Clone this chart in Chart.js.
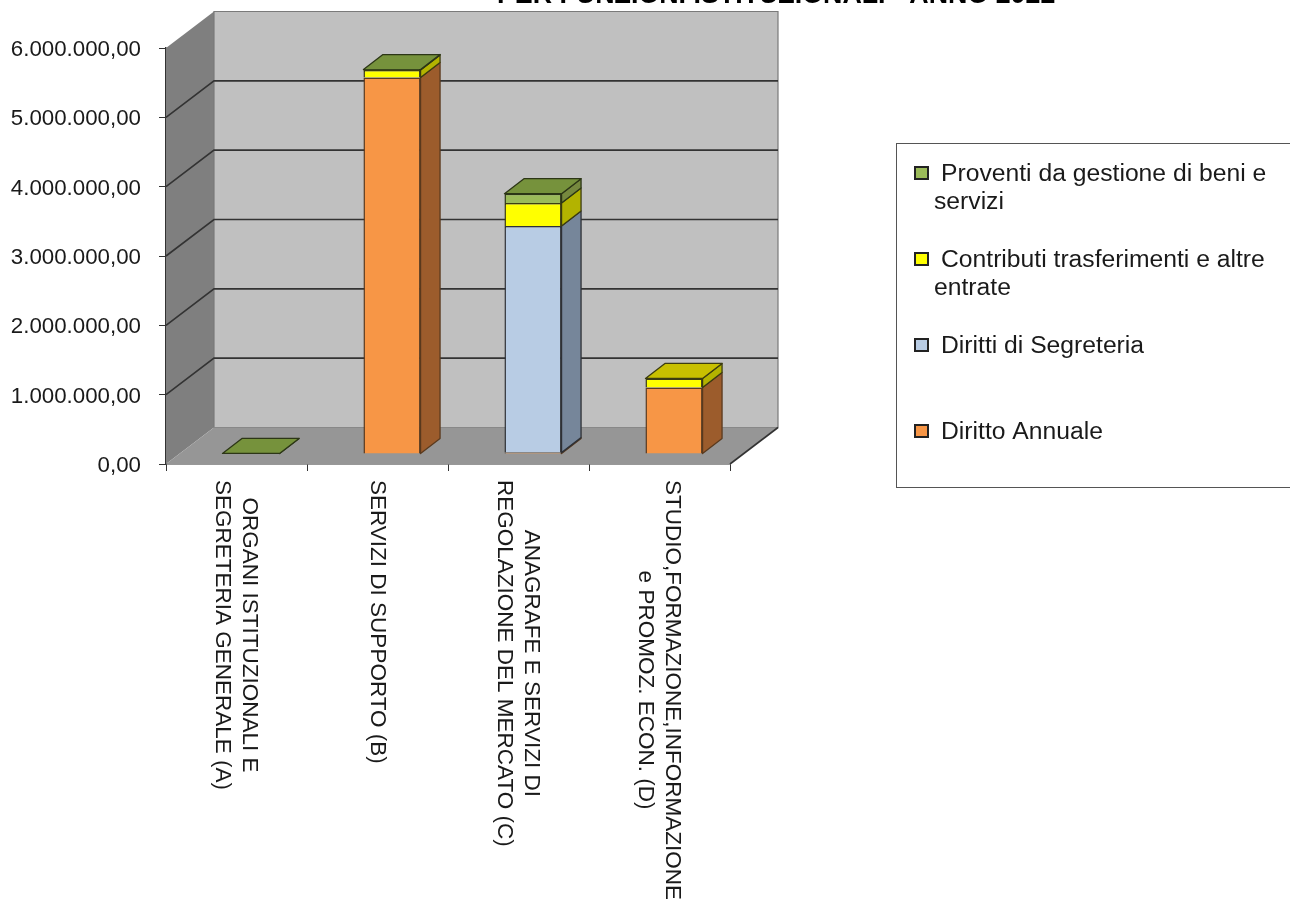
<!DOCTYPE html>
<html>
<head>
<meta charset="utf-8">
<style>
  html, body { margin: 0; padding: 0; background: #fff; overflow: hidden; }
  #contenedor { width: 1290px; height: 900px; }
</style>
<script src="https://cdn.jsdelivr.net/npm/chart.js@4/dist/chart.umd.js"></script>
</head>
<body>
<div id="contenedor"><canvas id="grafica"></canvas></div>
<script>
// ------------- Datos -------------
const titolo = 'PER FUNZIONI ISTITUZIONALI - ANNO 2022';

const categorie = [
  ['ORGANI ISTITUZIONALI E', 'SEGRETERIA GENERALE (A)'],
  ['SERVIZI DI SUPPORTO (B)'],
  ['ANAGRAFE E SERVIZI DI', 'REGOLAZIONE DEL MERCATO (C)'],
  ['STUDIO,FORMAZIONE,INFORMAZIONE', 'e PROMOZ. ECON. (D)']
];

const dirittoAnnuale = [0, 5430000, 20000, 960000];
const dirittiSegreteria = [0, 0, 3270000, 0];
const contributi = [0, 110000, 330000, 130000];
const proventi = [8000, 5000, 134000, 0];

const tickY = ['0,00', '1.000.000,00', '2.000.000,00', '3.000.000,00', '4.000.000,00', '5.000.000,00', '6.000.000,00'];

// testo della legenda, dall'alto in basso (a capo come nell'originale)
const legendaProventi = ['Proventi da gestione di beni e', 'servizi'];
const legendaContributi = ['Contributi trasferimenti e altre', 'entrate'];
const legendaSegreteria = ['Diritti di Segreteria'];
const legendaAnnuale = ['Diritto Annuale'];

// ------------- Stili -------------
const font = '"Liberation Sans", Arial, sans-serif';

// colori: fronte, lato, sopra, bordo
const stili = [
  { fronte: '#f79646', lato: '#9c5c2c', sopra: '#c47a3a', bordo: '#5a3a1e' },
  { fronte: '#b8cce4', lato: '#76869a', sopra: '#94a4b8', bordo: '#2e3136' },
  { fronte: '#ffff00', lato: '#b3b300', sopra: '#c8c000', bordo: '#3c3c10' },
  { fronte: '#9bbb59', lato: '#76893f', sopra: '#76923c', bordo: '#2c3616' }
];

// ------------- Effetto 3D -------------
const PROF_X = 48, PROF_Y = 36.5;    // profondita delle pareti
const SPOST_X = 14.5, SPOST_Y = 10;  // barre spostate dentro il pavimento
const BARRA_X = 19.5, BARRA_Y = 15;  // profondita delle barre

function poligono(ctx, punti, riempi, linea, spessore) {
  ctx.beginPath();
  punti.forEach((p, i) => i ? ctx.lineTo(p[0], p[1]) : ctx.moveTo(p[0], p[1]));
  ctx.closePath();
  ctx.fillStyle = riempi;
  ctx.fill();
  if (linea) {
    ctx.strokeStyle = linea;
    ctx.lineWidth = spessore || 1;
    ctx.stroke();
  }
}

const pareti = {
  id: 'pareti',
  beforeDatasetsDraw(chart) {
    const { ctx, scales: { x, y } } = chart;
    const l = x.left, r = x.right, t = y.top, b = y.bottom;
    ctx.save();
    // parete sinistra, parete di fondo e pavimento
    poligono(ctx, [[l, t], [l + PROF_X, t - PROF_Y], [l + PROF_X, b - PROF_Y], [l, b]], '#7f7f7f');
    poligono(ctx, [[l + PROF_X, t - PROF_Y], [r + PROF_X, t - PROF_Y], [r + PROF_X, b - PROF_Y], [l + PROF_X, b - PROF_Y]], '#c0c0c0', '#7a7a7a', 1.2);
    poligono(ctx, [[l, b], [l + PROF_X, b - PROF_Y], [r + PROF_X, b - PROF_Y], [r, b]], '#969696');
    // griglia che sale sulla parete e prosegue sul fondo
    ctx.strokeStyle = '#333333';
    ctx.lineWidth = 1.6;
    tickY.forEach((_, i) => {
      if (i === 0 || i === tickY.length - 1) return;
      const py = y.getPixelForValue(i * 1000000);
      ctx.beginPath();
      ctx.moveTo(l, py);
      ctx.lineTo(l + PROF_X, py - PROF_Y);
      ctx.lineTo(r + PROF_X, py - PROF_Y);
      ctx.stroke();
    });
    ctx.beginPath();
    ctx.moveTo(r, b);
    ctx.lineTo(r + PROF_X, b - PROF_Y);
    ctx.stroke();
    ctx.restore();

    // da qui le barre sono disegnate spostate, fino a afterDatasetsDraw
    ctx.save();
    ctx.translate(SPOST_X, -SPOST_Y);
    ctx.lineJoin = 'round';
    chart.data.datasets.forEach((ds, i) => {
      chart.getDatasetMeta(i).data.forEach((el, k) => {
        const destra = el.x + el.width / 2;
        const sinistra = el.x - el.width / 2;
        if (ds.data[k] > 0) {
          poligono(ctx, [[destra, el.y], [destra + BARRA_X, el.y - BARRA_Y], [destra + BARRA_X, el.base - BARRA_Y], [destra, el.base]], stili[i].lato, stili[i].bordo, 1.3);
        }
        // la faccia sopra solo sull'ultimo pezzo della pila
        const sopraVuoto = chart.data.datasets.slice(i + 1).every(d => !d.data[k]);
        if (ds.data[k] > 0 && sopraVuoto) {
          poligono(ctx, [[sinistra, el.y], [destra, el.y], [destra + BARRA_X, el.y - BARRA_Y], [sinistra + BARRA_X, el.y - BARRA_Y]], stili[i].sopra, stili[i].bordo, 1.3);
        }
      });
    });
  },
  afterDatasetsDraw(chart) {
    chart.ctx.restore();
  }
};

// ------------- Testi e legenda -------------
const testi = {
  id: 'testi',
  afterDraw(chart) {
    const { ctx, scales: { x, y } } = chart;
    ctx.save();
    ctx.fillStyle = '#000';

    // titolo, tagliato in alto come nell'originale
    ctx.font = 'bold 26.8px ' + font;
    ctx.textAlign = 'left';
    ctx.textBaseline = 'alphabetic';
    ctx.fillText(titolo, 497, 3);

    // etichette dell'asse y
    ctx.font = '22.3px ' + font;
    ctx.fillStyle = '#1a1a1a';
    ctx.textAlign = 'right';
    tickY.forEach((testo, i) => {
      ctx.fillText(testo, 141, y.getPixelForValue(i * 1000000) + 8);
    });

    // etichette verticali sotto l'asse x, lette dall'alto in basso
    ctx.font = '22.5px ' + font;
    ctx.textAlign = 'center';
    categorie.forEach((righe, i) => {
      const cx = x.getPixelForValue(i);
      const massima = Math.max(...righe.map(r => ctx.measureText(r).width));
      righe.forEach((riga, n) => {
        ctx.save();
        // la prima riga sta a destra
        const centro = cx + ((righe.length - 1) / 2 - n) * 26.5;
        ctx.translate(centro, y.bottom + 16 + massima / 2);
        ctx.rotate(Math.PI / 2);
        ctx.fillText(riga, 0, 7);
        ctx.restore();
      });
    });

    // riquadro della legenda, arriva al bordo destro
    ctx.fillStyle = '#fff';
    ctx.strokeStyle = '#555';
    ctx.lineWidth = 1;
    ctx.fillRect(896.5, 143.5, 400, 344);
    ctx.strokeRect(896.5, 143.5, 400, 344);

    const voci = [
      { righe: legendaProventi, colore: stili[3].fronte, yc: 173 },
      { righe: legendaContributi, colore: stili[2].fronte, yc: 259 },
      { righe: legendaSegreteria, colore: stili[1].fronte, yc: 345 },
      { righe: legendaAnnuale, colore: stili[0].fronte, yc: 431 }
    ];
    ctx.font = '24.7px ' + font;
    ctx.textAlign = 'left';
    voci.forEach(v => {
      ctx.fillStyle = v.colore;
      ctx.strokeStyle = '#222';
      ctx.lineWidth = 2;
      ctx.fillRect(915, v.yc - 6, 13, 12);
      ctx.strokeRect(915, v.yc - 6, 13, 12);
      ctx.fillStyle = '#1a1a1a';
      v.righe.forEach((riga, n) => {
        ctx.fillText(riga, n ? 934 : 941, v.yc + 8 + n * 28);
      });
    });
    ctx.restore();
  }
};

// ------------- Grafica -------------
document.getElementById('grafica').width = 1290;
document.getElementById('grafica').height = 900;

new Chart(document.getElementById('grafica'), {
  type: 'bar',
  data: {
    labels: categorie,
    datasets: [
      { label: legendaAnnuale.join(' '), data: dirittoAnnuale, backgroundColor: stili[0].fronte, borderColor: stili[0].bordo },
      { label: legendaSegreteria.join(' '), data: dirittiSegreteria, backgroundColor: stili[1].fronte, borderColor: stili[1].bordo },
      { label: legendaContributi.join(' '), data: contributi, backgroundColor: stili[2].fronte, borderColor: stili[2].bordo },
      { label: legendaProventi.join(' '), data: proventi, backgroundColor: stili[3].fronte, borderColor: stili[3].bordo }
    ].map(ds => ({
      ...ds,
      borderWidth: 1.5,
      categoryPercentage: 1,
      barPercentage: 0.405,
      clip: false
    }))
  },
  options: {
    responsive: false,
    animation: false,
    layout: { padding: { left: 0, top: 48, right: 560, bottom: 0 } },
    plugins: {
      legend: { display: false },
      tooltip: { enabled: false }
    },
    scales: {
      x: {
        stacked: true,
        grid: { offset: true, drawOnChartArea: false, tickLength: 7, color: '#333' },
        border: { color: '#333', width: 1.5 },
        ticks: { display: false },
        afterFit: s => { s.height = 436; }
      },
      y: {
        stacked: true,
        min: 0,
        max: 6000000,
        grid: { drawOnChartArea: false, tickLength: 7, color: '#333' },
        border: { color: '#333', width: 1.5 },
        ticks: { display: false, stepSize: 1000000 },
        afterFit: s => { s.width = 166; }
      }
    }
  },
  plugins: [pareti, testi]
});
</script>
</body>
</html>
